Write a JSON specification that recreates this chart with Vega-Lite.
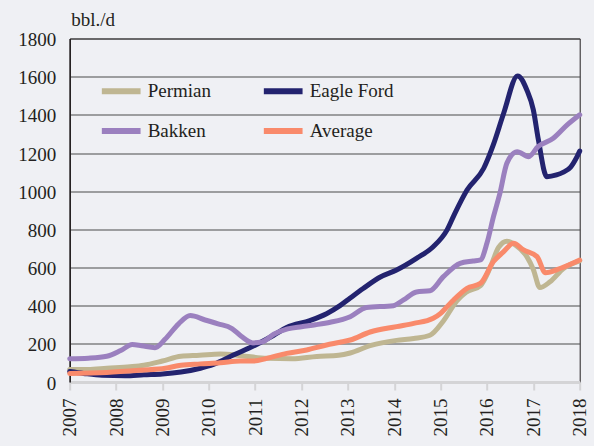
{
  "$schema": "https://vega.github.io/schema/vega-lite/v6.json",
  "width": 510,
  "height": 343.5,
  "autosize": "none",
  "padding": {"left": 69.7, "top": 38.5, "right": 14.3, "bottom": 64},
  "background": "#eff0f4",
  "config": {
    "font": "Liberation Serif",
    "legend": {"labelFont": "Liberation Serif"},
    "view": {"fill": "#eff0f4", "stroke": "#231f20", "strokeWidth": 1}
  },
  "data": {
    "values": [
      {"s": "Permian", "t": 2007.0, "v": 65},
      {"s": "Permian", "t": 2007.4, "v": 65},
      {"s": "Permian", "t": 2007.8, "v": 72},
      {"s": "Permian", "t": 2008.3, "v": 80},
      {"s": "Permian", "t": 2008.6, "v": 88},
      {"s": "Permian", "t": 2009.0, "v": 110},
      {"s": "Permian", "t": 2009.4, "v": 135},
      {"s": "Permian", "t": 2009.8, "v": 140},
      {"s": "Permian", "t": 2010.25, "v": 147},
      {"s": "Permian", "t": 2010.7, "v": 138},
      {"s": "Permian", "t": 2011.25, "v": 124},
      {"s": "Permian", "t": 2011.8, "v": 122},
      {"s": "Permian", "t": 2012.33, "v": 134},
      {"s": "Permian", "t": 2012.8, "v": 140},
      {"s": "Permian", "t": 2013.05, "v": 152},
      {"s": "Permian", "t": 2013.5, "v": 192},
      {"s": "Permian", "t": 2014.05, "v": 218},
      {"s": "Permian", "t": 2014.42, "v": 228},
      {"s": "Permian", "t": 2014.77, "v": 245},
      {"s": "Permian", "t": 2015.06, "v": 320},
      {"s": "Permian", "t": 2015.35, "v": 425},
      {"s": "Permian", "t": 2015.55, "v": 470},
      {"s": "Permian", "t": 2015.86, "v": 505},
      {"s": "Permian", "t": 2016.07, "v": 600},
      {"s": "Permian", "t": 2016.25, "v": 705},
      {"s": "Permian", "t": 2016.43, "v": 738},
      {"s": "Permian", "t": 2016.61, "v": 718},
      {"s": "Permian", "t": 2016.86, "v": 657},
      {"s": "Permian", "t": 2017.0, "v": 590},
      {"s": "Permian", "t": 2017.14, "v": 495},
      {"s": "Permian", "t": 2017.36, "v": 525},
      {"s": "Permian", "t": 2017.65, "v": 595},
      {"s": "Permian", "t": 2018.0, "v": 635},
      {"s": "Eagle Ford", "t": 2007.0, "v": 55},
      {"s": "Eagle Ford", "t": 2007.3, "v": 45},
      {"s": "Eagle Ford", "t": 2007.7, "v": 35},
      {"s": "Eagle Ford", "t": 2008.2, "v": 33},
      {"s": "Eagle Ford", "t": 2008.6, "v": 38},
      {"s": "Eagle Ford", "t": 2009.0, "v": 42},
      {"s": "Eagle Ford", "t": 2009.4, "v": 52},
      {"s": "Eagle Ford", "t": 2009.82, "v": 72},
      {"s": "Eagle Ford", "t": 2010.1, "v": 92},
      {"s": "Eagle Ford", "t": 2010.53, "v": 141},
      {"s": "Eagle Ford", "t": 2011.04, "v": 198},
      {"s": "Eagle Ford", "t": 2011.4, "v": 245},
      {"s": "Eagle Ford", "t": 2011.68, "v": 285},
      {"s": "Eagle Ford", "t": 2012.18, "v": 322},
      {"s": "Eagle Ford", "t": 2012.54, "v": 358},
      {"s": "Eagle Ford", "t": 2012.83, "v": 400},
      {"s": "Eagle Ford", "t": 2013.05, "v": 440},
      {"s": "Eagle Ford", "t": 2013.33, "v": 490},
      {"s": "Eagle Ford", "t": 2013.7, "v": 550},
      {"s": "Eagle Ford", "t": 2014.05, "v": 587},
      {"s": "Eagle Ford", "t": 2014.48, "v": 648},
      {"s": "Eagle Ford", "t": 2014.84, "v": 709},
      {"s": "Eagle Ford", "t": 2015.14, "v": 797},
      {"s": "Eagle Ford", "t": 2015.3, "v": 880},
      {"s": "Eagle Ford", "t": 2015.57, "v": 1006},
      {"s": "Eagle Ford", "t": 2015.93, "v": 1120},
      {"s": "Eagle Ford", "t": 2016.14, "v": 1245},
      {"s": "Eagle Ford", "t": 2016.36, "v": 1408},
      {"s": "Eagle Ford", "t": 2016.66, "v": 1604},
      {"s": "Eagle Ford", "t": 2016.86, "v": 1530},
      {"s": "Eagle Ford", "t": 2017.0, "v": 1426},
      {"s": "Eagle Ford", "t": 2017.11, "v": 1268},
      {"s": "Eagle Ford", "t": 2017.29, "v": 1076},
      {"s": "Eagle Ford", "t": 2017.5, "v": 1085},
      {"s": "Eagle Ford", "t": 2017.65, "v": 1100},
      {"s": "Eagle Ford", "t": 2017.8, "v": 1125},
      {"s": "Eagle Ford", "t": 2017.94, "v": 1180},
      {"s": "Eagle Ford", "t": 2018.0, "v": 1210},
      {"s": "Bakken", "t": 2007.0, "v": 122},
      {"s": "Bakken", "t": 2007.4, "v": 125},
      {"s": "Bakken", "t": 2007.8, "v": 135},
      {"s": "Bakken", "t": 2008.1, "v": 165},
      {"s": "Bakken", "t": 2008.35, "v": 196},
      {"s": "Bakken", "t": 2008.55, "v": 190},
      {"s": "Bakken", "t": 2008.84, "v": 180},
      {"s": "Bakken", "t": 2009.06, "v": 225},
      {"s": "Bakken", "t": 2009.35, "v": 305},
      {"s": "Bakken", "t": 2009.6, "v": 348},
      {"s": "Bakken", "t": 2009.92, "v": 325},
      {"s": "Bakken", "t": 2010.2, "v": 305},
      {"s": "Bakken", "t": 2010.5, "v": 280},
      {"s": "Bakken", "t": 2010.7, "v": 240},
      {"s": "Bakken", "t": 2010.95, "v": 205},
      {"s": "Bakken", "t": 2011.15, "v": 210},
      {"s": "Bakken", "t": 2011.4, "v": 250},
      {"s": "Bakken", "t": 2011.7, "v": 278},
      {"s": "Bakken", "t": 2012.0, "v": 290},
      {"s": "Bakken", "t": 2012.3, "v": 300},
      {"s": "Bakken", "t": 2012.62, "v": 313},
      {"s": "Bakken", "t": 2013.05, "v": 342},
      {"s": "Bakken", "t": 2013.4, "v": 390},
      {"s": "Bakken", "t": 2013.98, "v": 400},
      {"s": "Bakken", "t": 2014.2, "v": 430},
      {"s": "Bakken", "t": 2014.48, "v": 472},
      {"s": "Bakken", "t": 2014.77, "v": 478},
      {"s": "Bakken", "t": 2015.06, "v": 552},
      {"s": "Bakken", "t": 2015.42, "v": 622},
      {"s": "Bakken", "t": 2015.7, "v": 634},
      {"s": "Bakken", "t": 2015.86, "v": 640},
      {"s": "Bakken", "t": 2016.0, "v": 728},
      {"s": "Bakken", "t": 2016.14, "v": 866},
      {"s": "Bakken", "t": 2016.28, "v": 990},
      {"s": "Bakken", "t": 2016.43, "v": 1147},
      {"s": "Bakken", "t": 2016.65, "v": 1207},
      {"s": "Bakken", "t": 2016.9, "v": 1181},
      {"s": "Bakken", "t": 2017.1, "v": 1233},
      {"s": "Bakken", "t": 2017.43, "v": 1277},
      {"s": "Bakken", "t": 2017.73, "v": 1347},
      {"s": "Bakken", "t": 2018.0, "v": 1400},
      {"s": "Average", "t": 2007.0, "v": 45},
      {"s": "Average", "t": 2007.8, "v": 50},
      {"s": "Average", "t": 2008.55, "v": 62},
      {"s": "Average", "t": 2009.06, "v": 72},
      {"s": "Average", "t": 2009.4, "v": 88},
      {"s": "Average", "t": 2009.82, "v": 95},
      {"s": "Average", "t": 2010.25, "v": 101},
      {"s": "Average", "t": 2010.68, "v": 110},
      {"s": "Average", "t": 2010.96, "v": 110},
      {"s": "Average", "t": 2011.25, "v": 124},
      {"s": "Average", "t": 2011.68, "v": 150},
      {"s": "Average", "t": 2012.11, "v": 168},
      {"s": "Average", "t": 2012.54, "v": 194},
      {"s": "Average", "t": 2012.83, "v": 208},
      {"s": "Average", "t": 2013.05, "v": 220},
      {"s": "Average", "t": 2013.48, "v": 262},
      {"s": "Average", "t": 2014.05, "v": 290},
      {"s": "Average", "t": 2014.42, "v": 307},
      {"s": "Average", "t": 2014.84, "v": 334},
      {"s": "Average", "t": 2015.0, "v": 360},
      {"s": "Average", "t": 2015.14, "v": 395},
      {"s": "Average", "t": 2015.28, "v": 430},
      {"s": "Average", "t": 2015.57, "v": 491},
      {"s": "Average", "t": 2015.86, "v": 517},
      {"s": "Average", "t": 2016.14, "v": 631},
      {"s": "Average", "t": 2016.36, "v": 683},
      {"s": "Average", "t": 2016.57, "v": 727},
      {"s": "Average", "t": 2016.79, "v": 692},
      {"s": "Average", "t": 2017.08, "v": 657},
      {"s": "Average", "t": 2017.26, "v": 573},
      {"s": "Average", "t": 2017.59, "v": 596},
      {"s": "Average", "t": 2018.0, "v": 639}
    ]
  },
  "mark": {"type": "line", "interpolate": "monotone", "strokeWidth": 5, "strokeCap": "round", "strokeJoin": "round"},
  "encoding": {
    "x": {
      "field": "t", "type": "quantitative",
      "scale": {"domain": [2007, 2018], "nice": false, "zero": false},
      "axis": {
        "title": null,
        "values": [2007, 2008, 2009, 2010, 2011, 2012, 2013, 2014, 2015, 2016, 2017, 2018],
        "format": "d",
        "grid": false,
        "labelAngle": -90,
        "labelFontSize": 19,
        "labelColor": "#231f20",
        "labelPadding": 8,
        "labelFlush": false,
        "labelOverlap": false,
        "domainColor": "#d4d4d6",
        "domainWidth": 3,
        "tickColor": "#d4d4d6",
        "tickWidth": 2,
        "tickSize": 8
      }
    },
    "y": {
      "field": "v", "type": "quantitative",
      "scale": {"domain": [0, 1800], "nice": false},
      "axis": {
        "title": "bbl./d",
        "titleAngle": 0,
        "titleAlign": "left",
        "titleBaseline": "alphabetic",
        "titleX": 1,
        "titleY": -13.5,
        "titleFontSize": 19,
        "titleFontWeight": "normal",
        "titleColor": "#231f20",
        "values": [0, 200, 400, 600, 800, 1000, 1200, 1400, 1600, 1800],
        "format": "d",
        "ticks": false,
        "labelFontSize": 19,
        "labelColor": "#231f20",
        "labelPadding": 14,
        "labelOffset": 1,
        "domainColor": "#231f20",
        "domainWidth": 1.5,
        "gridColor": "#4a4a4a",
        "gridWidth": 1.2,
        "gridOpacity": 1
      }
    },
    "color": {
      "field": "s", "type": "nominal",
      "scale": {
        "domain": ["Permian", "Eagle Ford", "Bakken", "Average"],
        "range": ["#bfb692", "#23236f", "#9b80bf", "#f98a6b"]
      },
      "legend": {
        "title": null,
        "orient": "none",
        "direction": "horizontal",
        "legendX": 29,
        "legendY": 30,
        "columns": 2,
        "columnPadding": 40,
        "rowPadding": 5,
        "symbolType": "stroke",
        "symbolSize": 1500,
        "symbolStrokeWidth": 6,
        "labelFont": "Liberation Serif",
        "labelFontSize": 19,
        "labelColor": "#231f20",
        "labelOffset": 4
      }
    }
  }
}
